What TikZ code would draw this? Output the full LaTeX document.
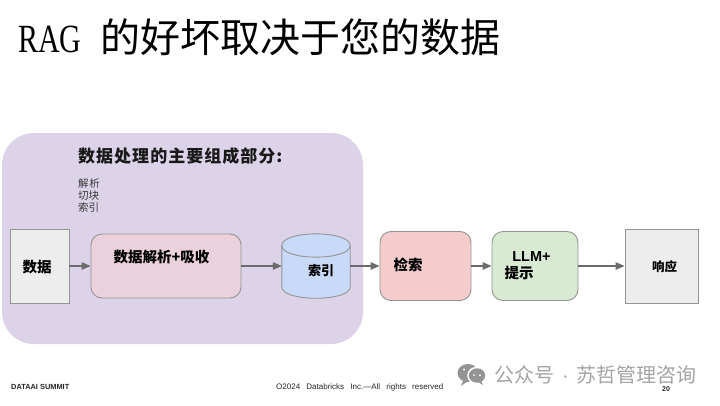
\documentclass[tikz,border=0pt]{standalone}
\usepackage{fontspec}
\setmainfont{Liberation Sans}
\newfontfamily\cjk{Noto Sans CJK SC}
\newfontfamily\lat{Liberation Serif}
\newfontfamily\lsans{Liberation Sans}
\usetikzlibrary{arrows.meta}
\definecolor{panelc}{HTML}{DCD3E8}
\definecolor{greyc}{HTML}{EDEDED}
\definecolor{pinkc}{HTML}{EAD1DC}
\definecolor{bluec}{HTML}{C9DAF8}
\definecolor{redc}{HTML}{F4CCCC}
\definecolor{greenc}{HTML}{D9EAD3}
\tikzset{
  px/.style={x=1pt,y=-1pt},
  boxline/.style={draw=black!42,line width=0.9pt},
  sqbox/.style={boxline,fill=greyc,rectangle,inner sep=0pt},
  rbox/.style={boxline,rectangle,rounded corners=11pt,inner sep=0pt},
  flow/.style={draw=black!58,line width=1.2pt,-{Triangle[length=9pt,width=7.5pt]}},
  lab/.style={inner sep=0pt,font=\cjk\bfseries,text=black},
  foot/.style={inner sep=0pt,font=\fontsize{8}{9}\selectfont,text=black!85},
}
\begin{document}
\begin{tikzpicture}[px]
\useasboundingbox (0,0) rectangle (720,405);
\node[inner sep=0pt,anchor=west] (title) at (18,37) {\fontsize{40}{42}\selectfont\scalebox{0.75}[1]{\lat RAG}\hspace{19pt}{\cjk 的好坏取决于您的数据}};
\node[fill=panelc,rectangle,rounded corners=32pt,minimum width=361pt,minimum height=211pt,inner sep=0pt] (panel) at (182.5,238.5) {};
\node[lab,anchor=west,font=\cjk\bfseries\fontsize{17}{19}\selectfont,text=black!90] (head) at (78,156) {\addfontfeature{LetterSpace=6}数据处理的主要组成部分:};
\node[inner sep=0pt,anchor=north west,align=left,font=\cjk\fontsize{10.5}{12}\selectfont,text=black!78] (steps) at (78,178) {\addfontfeature{LetterSpace=6}解析\\切块\\索引};
\node[sqbox,minimum width=59pt,minimum height=74pt] (data) at (39.5,266) {};
\node[rbox,fill=pinkc,minimum width=150pt,minimum height=64pt] (parse) at (166,266) {};
\node[rectangle,inner sep=0pt,minimum width=68pt,minimum height=64pt] (index) at (316,266) {};
\draw[boxline,fill=bluec] (index.west |- 0,245.5) -- (index.west |- 0,287)
  .. controls (282,302) and (350,302) .. (index.east |- 0,287) -- (index.east |- 0,245.5)
  .. controls (350,230) and (282,230) .. (index.west |- 0,245.5) -- cycle;
\draw[boxline] (index.west |- 0,245.5) .. controls (282,261) and (350,261) .. (index.east |- 0,245.5);
\node[rbox,fill=redc,minimum width=91pt,minimum height=69pt] (retr) at (425.5,266) {};
\node[rbox,fill=greenc,minimum width=86pt,minimum height=69pt] (llm) at (535,266) {};
\node[sqbox,minimum width=73pt,minimum height=74pt] (resp) at (661.5,266) {};
\draw[flow] (data) -- (parse);
\draw[flow] (parse) -- (index);
\draw[flow] (index) -- (retr);
\draw[flow] (retr) -- (llm);
\draw[flow] (llm) -- (resp);
\node[lab,font=\cjk\bfseries\fontsize{14.5}{16}\selectfont] (t1) at (37,267) {数据};
\node[lab,font=\cjk\bfseries\fontsize{14.5}{16}\selectfont] (t2) at (161.5,257) {数据解析+吸收};
\node[lab,font=\cjk\bfseries\fontsize{13}{15}\selectfont] (t3) at (321,271) {索引};
\node[lab,font=\cjk\bfseries\fontsize{14.5}{16}\selectfont] (t4) at (408,265) {检索};
\node[lab,font=\bfseries\fontsize{14.5}{16}\selectfont] (t5) at (531.5,257) {LLM+};
\node[lab,font=\cjk\bfseries\fontsize{14.5}{16}\selectfont] (t6) at (519,273) {提示};
\node[lab,font=\cjk\bfseries\fontsize{12.5}{14}\selectfont] (t7) at (664.5,267) {响应};
\node[foot,anchor=west,font=\bfseries\fontsize{7.4}{8}\selectfont] (f1) at (11,387) {DATAAI SUMMIT};
\node[foot,anchor=west] (f2) at (276,387) {O2024\hspace{4pt} Databricks\hspace{4pt} Inc.—All\hspace{4pt} rights\hspace{4pt} reserved};
\node[foot,font=\bfseries\fontsize{7}{8}\selectfont] (f3) at (666,389) {20};
\fill[black!42] (468,373) ellipse (10.5pt and 9pt);
\fill[black!42] (463.5,380) -- (461,386) -- (468,381) -- cycle;
\fill[white] (477,375.5) ellipse (9.8pt and 8.8pt);
\fill[black!42] (477,375.5) ellipse (8.2pt and 7.2pt);
\fill[black!42] (481,380) -- (483,385) -- (476,381) -- cycle;
\foreach \p in {464,471} \fill[white] (\p,369.5) circle (1.2pt);
\foreach \p in {474,480} \fill[white] (\p,375) circle (1pt);
\node[inner sep=0pt,anchor=west,font=\cjk\fontsize{20}{20}\selectfont,text=black!36] (wm) at (494,374.5) {公众号\hspace{8pt}{\lsans ·}\hspace{8pt}苏哲管理咨询};
\end{tikzpicture}
\end{document}
